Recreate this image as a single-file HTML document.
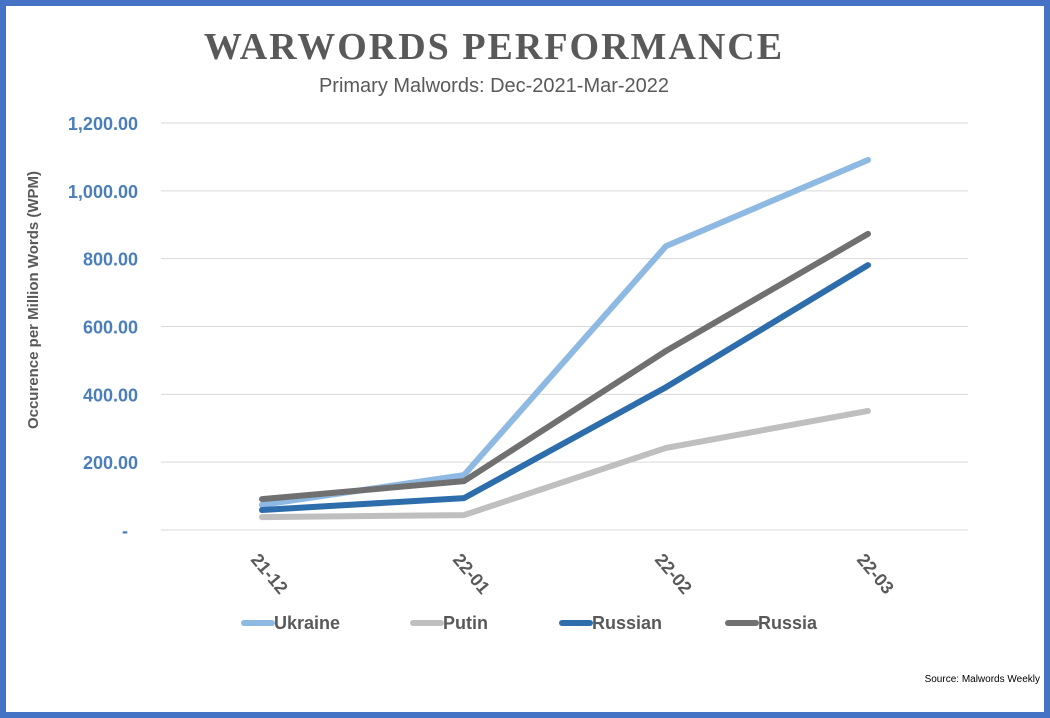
<!DOCTYPE html>
<html><head><meta charset="utf-8"><style>
html,body{margin:0;padding:0;background:#fff}
#frame{position:absolute;left:0;top:0;width:1038px;height:706px;border:6px solid #4472C4;background:#fff}
svg{position:absolute;left:0;top:0}
</style></head><body>
<div id="frame"></div>
<svg id="chart" width="1050" height="718">
<text x="494" y="59" text-anchor="middle" font-family="Liberation Serif, serif" font-weight="bold" font-size="38" fill="#595959" letter-spacing="2">WARWORDS PERFORMANCE</text>
<text x="494" y="92" text-anchor="middle" font-family="Liberation Sans, sans-serif" font-size="20" fill="#595959">Primary Malwords: Dec-2021-Mar-2022</text>
<text transform="translate(38,300) rotate(-90)" text-anchor="middle" font-family="Liberation Sans, sans-serif" font-weight="bold" font-size="15" fill="#595959">Occurence per Million Words  (WPM)</text>
<text x="1040" y="682" text-anchor="end" font-family="Liberation Sans, sans-serif" font-size="10" fill="#000">Source: Malwords Weekly</text>
<g id="grid"></g><g id="lines"></g><g id="legend"></g>
</svg>
<script>
const categories=["21-12","22-01","22-02","22-03"];
const seriesNames=["Ukraine","Putin","Russian","Russia"];
const ukraine=[74,162,837,1091];
const putin=[38,44,242,351];
const russian=[59,94,421,781];
const russia=[91,144,528,873];
const yTicks=[0,200,400,600,800,1000,1200];
const yTickLabels=["-","200.00","400.00","600.00","800.00","1,000.00","1,200.00"];
const colors=["#8DB9E2","#BFBFBF","#2E6DAB","#707070"];
const NS="http://www.w3.org/2000/svg";
const y=v=>530-v*(407/1200);
const x=i=>262+i*202;
function mk(t,a,p){const e=document.createElementNS(NS,t);for(const k in a)e.setAttribute(k,a[k]);p.appendChild(e);return e;}
const grid=document.getElementById('grid');
yTicks.forEach((v,i)=>{
 const l=mk('line',{x1:161,x2:968,y1:y(v),y2:y(v),stroke:'#D9D9D9','stroke-width':1},grid);
 
 
 const t=mk('text',{x:i==0?125:138,y:y(v)+7,'text-anchor':i==0?'middle':'end','font-family':'Liberation Sans, sans-serif','font-weight':'bold','font-size':18,fill:'#4A7EBB'},grid);
 t.textContent=yTickLabels[i];
 
 
});
categories.forEach((c,i)=>{
 const t=mk('text',{transform:`translate(${x(i)-12},${560}) rotate(50)`,'font-family':'Liberation Sans, sans-serif','font-weight':'bold','font-size':18,fill:'#595959'},grid);
 t.textContent=c;
 
 
});
const all=[ukraine,putin,russian,russia];
const lines=document.getElementById('lines');
[1,0,2,3].forEach(s=>{
 const p=mk('polyline',{points:all[s].map((v,i)=>x(i)+','+y(v)).join(' '),fill:'none',stroke:colors[s],'stroke-width':6,'stroke-linejoin':'round','stroke-linecap':'round'},lines);
 
 
});
const lg=document.getElementById('legend');
const lx=[244,413,562,728];
seriesNames.forEach((n,i)=>{
 const g=mk('g',{},lg);
 
 
 mk('line',{x1:lx[i],x2:lx[i]+28,y1:623,y2:623,stroke:colors[i],'stroke-width':6,'stroke-linecap':'round'},g);
 const t=mk('text',{x:lx[i]+30,y:629,'font-family':'Liberation Sans, sans-serif','font-weight':'bold','font-size':18,fill:'#595959'},g);
 t.textContent=n;
});
</script>
</body></html>
